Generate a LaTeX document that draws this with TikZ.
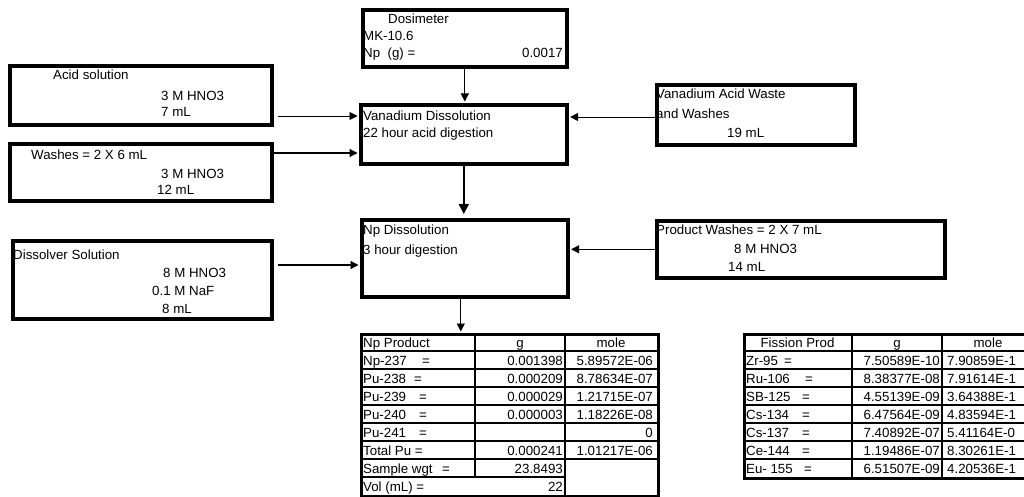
\documentclass[tikz,border=0pt]{standalone}
\usepackage{fontspec}
\setmainfont{Liberation Sans}
\usetikzlibrary{arrows.meta,calc}

% label with the "=" set at a fixed place
\newcommand{\lbleq}[2]{\makebox[#1pt][l]{#2}=}

\begin{document}
\begin{tikzpicture}[x=1pt,y=-1pt,font=\fontsize{13.3}{16}\selectfont,
  bx/.style={draw=black,line width=3.6pt,anchor=north west,inner sep=0pt},
  tbl/.style={draw=black,line width=3.4pt,anchor=north west,inner sep=0pt},
  rule/.style={line width=1.8pt},
  tx/.style={anchor=base west,inner sep=0pt},
  tr/.style={anchor=base east,inner sep=0pt},
  tc/.style={anchor=base,inner sep=0pt},
  ar/.style={-{Triangle[length=8pt,width=8pt]},line width=0.9pt,shorten >=1.5pt}]
  \useasboundingbox (0,0) rectangle (1024,497);
  \clip (0,0) rectangle (1024,497);

  % process boxes
  \node[bx,minimum width=204pt,minimum height=57pt] (dos) at (361,8) {};
  \node[bx,minimum width=206pt,minimum height=59pt] (van) at (359,103) {};
  \node[bx,minimum width=262pt,minimum height=59pt] (acid) at (8,64) {};
  \node[bx,minimum width=262pt,minimum height=57pt] (wash) at (8,142) {};
  \node[bx,minimum width=198pt,minimum height=60pt] (waste) at (655,83) {};
  \node[bx,minimum width=206pt,minimum height=77pt] (npd) at (360,218) {};
  \node[bx,minimum width=259pt,minimum height=78pt] (dis) at (11,239) {};
  \node[bx,minimum width=288pt,minimum height=57pt] (pw) at (655,219) {};

  % box texts
  \node[tx] (dos1) at (388,23.5) {Dosimeter};
  \node[tx] (dos2) at (363,41) {MK-10.6};
  \node[tx] (dos3) at (363,57.5) {Np\ \ (g) =};
  \node[tr] (dos4) at (563,57.5) {0.0017};
  \node[tx] (van1) at (363,120.5) {Vanadium Dissolution};
  \node[tx] (van2) at (363,137.5) {22 hour acid digestion};
  \node[tx] (acid1) at (53,79.3) {Acid solution};
  \node[tx] (acid2) at (161,100.5) {3 M HNO3};
  \node[tx] (acid3) at (161,117) {7 mL};
  \node[tx] (wash1) at (31,160) {Washes = 2 X 6 mL};
  \node[tx] (wash2) at (161,178.3) {3 M HNO3};
  \node[tx] (wash3) at (157,194.3) {12 mL};
  \node[tx] (waste1) at (656,99) {Vanadium Acid Waste};
  \node[tx] (waste2) at (656,119) {and Washes};
  \node[tx] (waste3) at (727,137.7) {19 mL};
  \node[tx] (npd1) at (363,234) {Np Dissolution};
  \node[tx] (npd2) at (363,254) {3 hour digestion};
  \node[tx] (dis1) at (13,259) {Dissolver Solution};
  \node[tx] (dis2) at (163,277.3) {8 M HNO3};
  \node[tx] (dis3) at (152,295.7) {0.1 M NaF};
  \node[tx] (dis4) at (162,313) {8 mL};
  \node[tx] (pw1) at (656,234) {Product Washes = 2 X 7 mL};
  \node[tx] (pw2) at (734,253.3) {8 M HNO3};
  \node[tx] (pw3) at (728,271) {14 mL};

  % Np product table
  \foreach \r in {1,...,7} \draw[rule] (360,{333+18*\r}) -- (657,{333+18*\r});
  \draw[rule] (360,477) -- (565,477);
  \draw[rule] (475,333) -- (475,477);
  \draw[rule] (565,333) -- (565,495);
  \node[tbl,minimum width=297pt,minimum height=162pt] (npt) at (360,333) {};
  \node[tx] (np0a) at (363,347) {Np Product};
  \node[tc] (np0b) at (520,347) {g};
  \node[tc] (np0c) at (611,347) {mole};
  \node[tx] (np1a) at (363,365) {\lbleq{59}{Np-237}};
  \node[tr] (np1b) at (563,365) {0.001398};
  \node[tr] (np1c) at (653,365) {5.89572E-06};
  \node[tx] (np2a) at (363,383) {\lbleq{51}{Pu-238}};
  \node[tr] (np2b) at (563,383) {0.000209};
  \node[tr] (np2c) at (653,383) {8.78634E-07};
  \node[tx] (np3a) at (363,401) {\lbleq{56}{Pu-239}};
  \node[tr] (np3b) at (563,401) {0.000029};
  \node[tr] (np3c) at (653,401) {1.21715E-07};
  \node[tx] (np4a) at (363,419) {\lbleq{56}{Pu-240}};
  \node[tr] (np4b) at (563,419) {0.000003};
  \node[tr] (np4c) at (653,419) {1.18226E-08};
  \node[tx] (np5a) at (363,437) {\lbleq{56}{Pu-241}};
  \node[tr] (np5c) at (653,437) {0};
  \node[tx] (np6a) at (363,455) {Total Pu =};
  \node[tr] (np6b) at (563,455) {0.000241};
  \node[tr] (np6c) at (653,455) {1.01217E-06};
  \node[tx] (np7a) at (363,473) {\lbleq{79}{Sample wgt}};
  \node[tr] (np7b) at (563,473) {23.8493};
  \node[tx] (np8a) at (363,491) {Vol (mL) =};
  \node[tr] (np8b) at (563,491) {22};

  % fission product table
  \foreach \r in {1,...,7} \draw[rule] (743,{333+18*\r}) -- (1032,{333+18*\r});
  \draw[rule] (852,333) -- (852,477);
  \draw[rule] (942,333) -- (942,477);
  \node[tbl,minimum width=289pt,minimum height=144pt] (fpt) at (743,333) {};
  \node[tc] (fp0a) at (797.5,347) {Fission Prod};
  \node[tc] (fp0b) at (897,347) {g};
  \node[tc] (fp0c) at (988,347) {mole};
  \node[tx] (fp1a) at (746,365) {\lbleq{38}{Zr-95}};
  \node[tr] (fp1b) at (940,365) {7.50589E-10};
  \node[tx] (fp1c) at (947,365) {7.90859E-1};
  \node[tx] (fp2a) at (746,383) {\lbleq{59}{Ru-106}};
  \node[tr] (fp2b) at (940,383) {8.38377E-08};
  \node[tx] (fp2c) at (947,383) {7.91614E-1};
  \node[tx] (fp3a) at (746,401) {\lbleq{56}{SB-125}};
  \node[tr] (fp3b) at (940,401) {4.55139E-09};
  \node[tx] (fp3c) at (947,401) {3.64388E-1};
  \node[tx] (fp4a) at (746,419) {\lbleq{56}{Cs-134}};
  \node[tr] (fp4b) at (940,419) {6.47564E-09};
  \node[tx] (fp4c) at (947,419) {4.83594E-1};
  \node[tx] (fp5a) at (746,437) {\lbleq{56}{Cs-137}};
  \node[tr] (fp5b) at (940,437) {7.40892E-07};
  \node[tx] (fp5c) at (947,437) {5.41164E-0};
  \node[tx] (fp6a) at (746,455) {\lbleq{56}{Ce-144}};
  \node[tr] (fp6b) at (940,455) {1.19486E-07};
  \node[tx] (fp6c) at (947,455) {8.30261E-1};
  \node[tx] (fp7a) at (746,473) {\lbleq{58}{Eu- 155}};
  \node[tr] (fp7b) at (940,473) {6.51507E-09};
  \node[tx] (fp7c) at (947,473) {4.20536E-1};

  % connectors
  \coordinate (acidout) at (278,116);
  \coordinate (washout) at (273,153);
  \coordinate (wasteout) at (655,117);
  \coordinate (disout) at (278,265);
  \draw[ar] (dos.south) -- (dos.south |- van.north);
  \draw[ar] (acidout) -- (acidout -| van.west);
  \draw[ar,line width=1.2pt] (washout) -- (washout -| van.west);
  \draw[ar] (wasteout) -- (wasteout -| van.east);
  \draw[ar,line width=2pt,-{Triangle[length=10pt,width=10pt]},shorten >=4pt] (van.south) -- (van.south |- npd.north);
  \draw[ar,line width=1.2pt] (disout) -- (disout -| npd.west);
  \draw[ar,line width=1.2pt] (pw.west) -- (pw.west -| npd.east);
  \draw[ar] ([xshift=-4pt]npd.south) -- ([xshift=-4pt]npd.south |- npt.north);
\end{tikzpicture}
\end{document}
